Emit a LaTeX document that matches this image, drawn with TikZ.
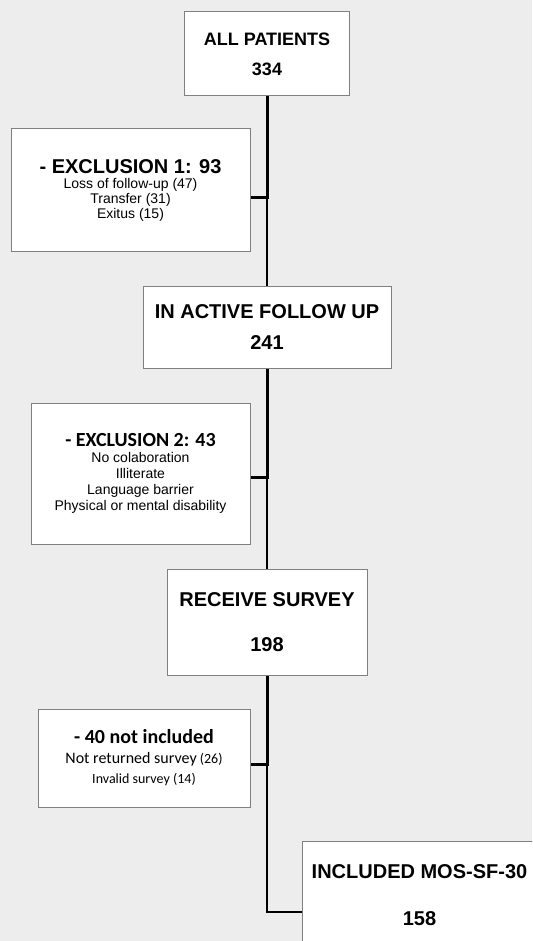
\documentclass[tikz,border=0pt]{standalone}
\usepackage{fontspec}
\setmainfont{Liberation Sans}
\newfontfamily\calibrifont{Carlito}
\definecolor{pageGray}{HTML}{EDEDED}
\definecolor{boxGray}{HTML}{808080}

\begin{document}
\begin{tikzpicture}[x=1pt, y=-1pt,
rectFlow/.style={rectangle, draw=boxGray, line width=1pt, fill=white, inner sep=0pt, align=center, font=\bfseries\fontsize{20}{31}\selectfont},
rectExcl/.style={rectangle, draw=boxGray, line width=1pt, fill=white, inner sep=0pt, align=center, font=\fontsize{14}{15}\selectfont},
lineThick/.style={line width=3pt},
lineThin/.style={line width=2pt}
]

\useasboundingbox (0,0) rectangle (532,941);
\clip (0,0) rectangle (532,941);
\fill[pageGray] (0,0) rectangle (532,941);

\node[rectFlow, minimum width=165, minimum height=84, font=\bfseries\fontsize{18}{30}\selectfont] (allPatients) at (267, 54) {ALL PATIENTS\\334};
\node[rectExcl, minimum width=239, minimum height=122] (exclusionOne) at (130.5, 190) {{\bfseries\fontsize{20}{15}\selectfont - EXCLUSION 1: 93}\\Loss of follow-up (47)\\Transfer (31)\\Exitus (15)};

\node[rectFlow, minimum width=248, minimum height=82] (activeFollowUp) at (267, 327) {IN ACTIVE FOLLOW UP\\241};
\node[rectExcl, minimum width=219, minimum height=141, font=\fontsize{14}{16}\selectfont] (exclusionTwo) at (140.5, 473.5) {{\calibrifont\bfseries\fontsize{20}{16}\selectfont - EXCLUSION 2: 43}\\No colaboration\\Illiterate\\Language barrier\\Physical or mental disability};

\node[rectFlow, minimum width=200, minimum height=106, font=\bfseries\fontsize{20}{45}\selectfont] (receiveSurvey) at (267, 622) {RECEIVE SURVEY\\198};
\node[rectExcl, minimum width=212, minimum height=98, font=\calibrifont\fontsize{14}{20}\selectfont] (notIncluded) at (144, 758) {{\bfseries\fontsize{20}{20}\selectfont - 40 not included}\\{\fontsize{16}{20}\selectfont Not returned survey} (26)\\Invalid survey (14)};

\node[rectFlow, minimum width=235, minimum height=109, font=\bfseries\fontsize{20}{47}\selectfont] (includedMos) at (419.5, 895.5) {INCLUDED MOS-SF-30\\158};

% junctions on the main line
\coordinate (joinOne) at (267, 198);
\coordinate (joinTwo) at (267, 477);
\coordinate (joinThree) at (267, 764);
\coordinate (cornerFour) at (267, 912);

\draw[lineThick] (allPatients.south) -- (joinOne);
\draw[lineThick] (exclusionOne.east |- joinOne) -- ([xshift=1.5pt]joinOne);
\draw[lineThin] (joinOne) -- (activeFollowUp.north);

\draw[lineThick] (activeFollowUp.south) -- (joinTwo);
\draw[lineThick] (exclusionTwo.east |- joinTwo) -- ([xshift=1.5pt]joinTwo);
\draw[lineThin] (joinTwo) -- (receiveSurvey.north);

\draw[lineThick] (receiveSurvey.south) -- (joinThree);
\draw[lineThick] (notIncluded.east |- joinThree) -- ([xshift=1.5pt]joinThree);
\draw[lineThin] (joinThree) -- (cornerFour) -- (cornerFour -| includedMos.west);

\end{tikzpicture}
\end{document}
